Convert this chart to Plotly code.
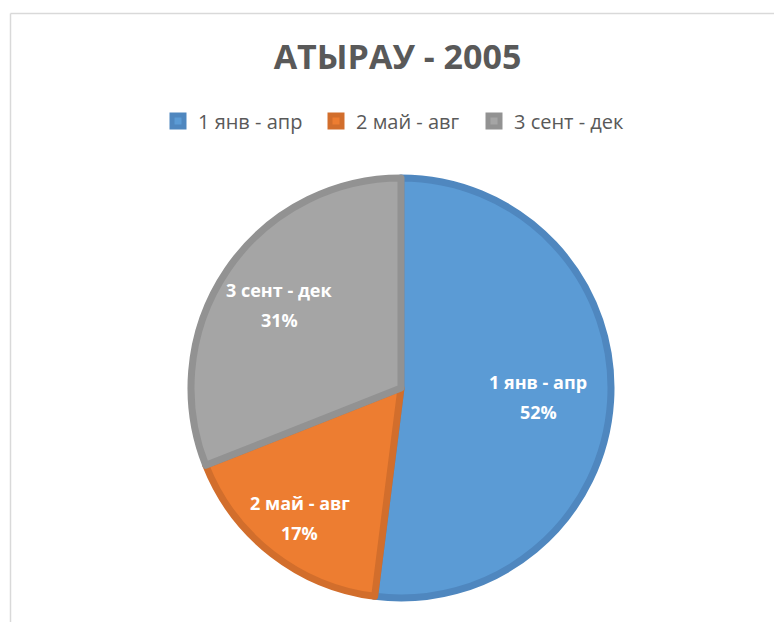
import math
import plotly.graph_objects as go

# Seasonal shares, Atyrau 2005
categories = ["1 янв - апр", "2 май - авг", "3 сент - дек"]
shares = [52, 17, 31]
fill_colors = ["#5B9BD5", "#ED7D31", "#A5A5A5"]
edge_colors = ["#4F87BF", "#D26E2C", "#929292"]
title_text = "АТЫРАУ - 2005"

W, H = 774, 622
FONT = "Open Sans"

# pie geometry in pixels
CX, CY, R = 401, 388, 210
# how far out (fraction of radius) each slice label sits
label_radius = [0.655, 0.785, 0.70]

fig = go.Figure(
    go.Pie(
        labels=categories,
        values=shares,
        sort=False,
        direction="clockwise",
        rotation=0,
        marker=dict(colors=fill_colors, line=dict(color=edge_colors, width=7)),
        textinfo="none",
        domain=dict(x=[(CX - R) / W, (CX + R) / W],
                    y=[1 - (CY + R) / H, 1 - (CY - R) / H]),
        hoverinfo="label+percent",
    )
)

# slice labels: name and rounded percentage at each slice's mid-angle
total = sum(shares)
annotations = []
start = 0.0
for name, val, rf in zip(categories, shares, label_radius):
    frac = val / total
    mid = 2 * math.pi * (start + frac / 2)
    start += frac
    px = CX + rf * R * math.sin(mid)
    py = CY - rf * R * math.cos(mid)
    for txt, dy in ((name, -15), (f"{round(frac * 100)}%", 15)):
        annotations.append(dict(
            text=txt, x=px / W, y=1 - (py + dy) / H,
            xref="paper", yref="paper", showarrow=False,
            xanchor="center", yanchor="middle",
            font=dict(family=FONT, size=18, color="white", weight="bold"),
        ))

fig.update_layout(
    width=W,
    height=H,
    margin=dict(l=0, r=0, t=0, b=0),
    paper_bgcolor="white",
    plot_bgcolor="white",
    title=dict(
        text=title_text,
        x=397.5 / W, xanchor="center",
        y=1 - 57 / H, yanchor="middle",
        font=dict(family=FONT, size=34, color="#595959", weight="bold"),
    ),
    showlegend=True,
    legend=dict(
        orientation="h",
        x=158 / W, xanchor="left",
        y=1 - 121 / H, yanchor="middle",
        font=dict(family=FONT, size=20, color="#595959"),
        itemwidth=30,
        entrywidthmode="pixels",
        entrywidth=113,
        traceorder="normal",
    ),
    annotations=annotations,
    shapes=[
        dict(type="line", xref="paper", yref="paper",
             x0=10.5 / W, x1=1.01, y0=1 - 13.5 / H, y1=1 - 13.5 / H,
             line=dict(color="#D9D9D9", width=1.5)),
        dict(type="line", xref="paper", yref="paper",
             x0=10.5 / W, x1=10.5 / W, y0=-0.01, y1=1 - 13.5 / H,
             line=dict(color="#D9D9D9", width=1.5)),
    ],
)

fig.write_html("out.html")
